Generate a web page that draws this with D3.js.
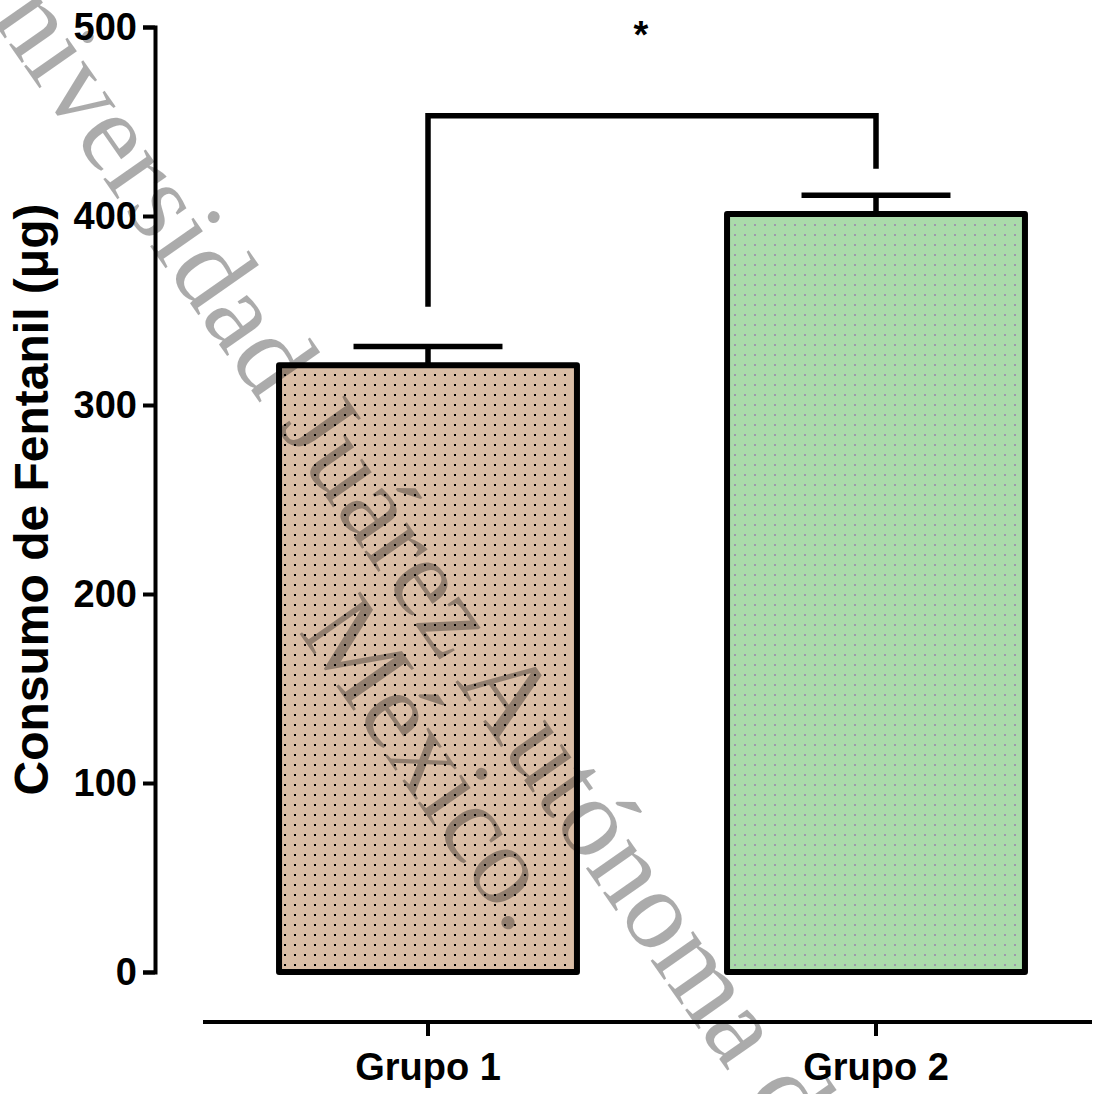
<!DOCTYPE html>
<html lang="es">
<head>
<meta charset="UTF-8">
<script src="https://d3js.org/d3.v7.min.js"></script>
<style>
    body { margin: 0; background: #fff; }
    .axis text { font-family: "Liberation Sans", Arial, sans-serif; font-weight: bold; font-size: 38px; fill: #000; }
    .axis path, .axis line { stroke: #000; stroke-width: 4px; }
    .ylabel { font-family: "Liberation Sans", Arial, sans-serif; font-weight: bold; font-size: 48px; text-anchor: middle; }
    .bar { stroke: #000; stroke-width: 6px; stroke-linejoin: round; }
    .err, .bracket { stroke: #000; stroke-width: 5.5px; fill: none; }
    .star { font-family: "Liberation Sans", Arial, sans-serif; font-weight: bold; font-size: 38px; text-anchor: middle; }
    .watermark { font-family: "Liberation Serif", "Times New Roman", serif; font-size: 113px; fill: #000; fill-opacity: 0.33; text-anchor: middle; }
</style>
</head>
<body>
<svg id="chart" width="1096" height="1094"></svg>
<script>
// data
const groups = ["Grupo 1", "Grupo 2"];
const means = [321, 401];
const sems = [10, 10];
const yTicks = [0, 100, 200, 300, 400, 500];
// significance bracket (in data units)
const bracketY = 453;
const bracketEnds = [352, 425];
const bracketLabel = "*";
const yLabel = "Consumo de Fentanil (\u03bcg)";
const watermarkLines = ["Universidad Juárez Autónoma de Tabasco.", "México."];

const barFill = ["#D9BDA5", "#AADBAA"];
const dotFill = ["#000", "#9E98AC"];

const svg = d3.select("#chart");

const x = d3.scaleBand().domain(groups).range([204, 1100]).paddingInner(0.335).paddingOuter(0.1675);
const y = d3.scaleLinear().domain([0, 500]).range([972, 27]);

// dotted fills
const defs = svg.append("defs");
groups.forEach((g, i) => {
    const p = defs.append("pattern")
        .attr("id", "dots" + i)
        .attr("patternUnits", "userSpaceOnUse")
        .attr("width", 10).attr("height", 10);
    p.append("rect").attr("width", 10).attr("height", 10).attr("fill", barFill[i]);
    p.append("rect").attr("x", 4).attr("y", 4).attr("width", 2).attr("height", 2).attr("fill", dotFill[i]);
});

// y axis
svg.append("g")
    .attr("class", "axis")
    .attr("transform", "translate(155,0)")
    .call(d3.axisLeft(y).tickValues(yTicks).tickSize(12).tickSizeOuter(12).tickPadding(6));

// x axis, detached below the bars
const xAxis = svg.append("g")
    .attr("class", "axis")
    .attr("transform", "translate(0,1022)")
    .call(d3.axisBottom(x).tickSize(14).tickSizeOuter(0).tickPadding(17));
xAxis.select(".domain").attr("d", "M203,0H1092");

svg.append("text")
    .attr("class", "ylabel")
    .attr("transform", "translate(48," + y(250) + ") rotate(-90)")
    .text(yLabel);

// bars
svg.selectAll(".bar").data(groups).enter().append("rect")
    .attr("class", "bar")
    .attr("x", d => x(d))
    .attr("width", x.bandwidth())
    .attr("y", (d, i) => y(means[i]))
    .attr("height", (d, i) => y(0) - y(means[i]))
    .attr("fill", (d, i) => "url(#dots" + i + ")");

// error bars (upper only)
const capHalf = x.bandwidth() * 0.25;
svg.selectAll(".err").data(groups).enter().append("path")
    .attr("class", "err")
    .attr("d", (d, i) => {
        const cx = x(d) + x.bandwidth() / 2;
        return "M" + cx + "," + y(means[i]) + "V" + y(means[i] + sems[i]) +
            "M" + (cx - capHalf) + "," + y(means[i] + sems[i]) + "H" + (cx + capHalf);
    });

// significance bracket
const x1 = x(groups[0]) + x.bandwidth() / 2;
const x2 = x(groups[1]) + x.bandwidth() / 2;
svg.append("path")
    .attr("class", "bracket")
    .attr("d", "M" + x1 + "," + y(bracketEnds[0]) + "V" + y(bracketY) + "H" + x2 + "V" + y(bracketEnds[1]));
svg.append("text")
    .attr("class", "star")
    .attr("x", (x1 + x2) / 2 - 11)
    .attr("y", y(bracketY) - 68)
    .text(bracketLabel);

// watermark on top
const wm = svg.append("text")
    .attr("class", "watermark")
    .attr("transform", "translate(496,740) rotate(55)");
watermarkLines.forEach((t, i) => {
    wm.append("tspan").attr("x", i === 0 ? 0 : -16).attr("dy", i === 0 ? 0 : 100).text(t);
});
</script>
</body>
</html>
